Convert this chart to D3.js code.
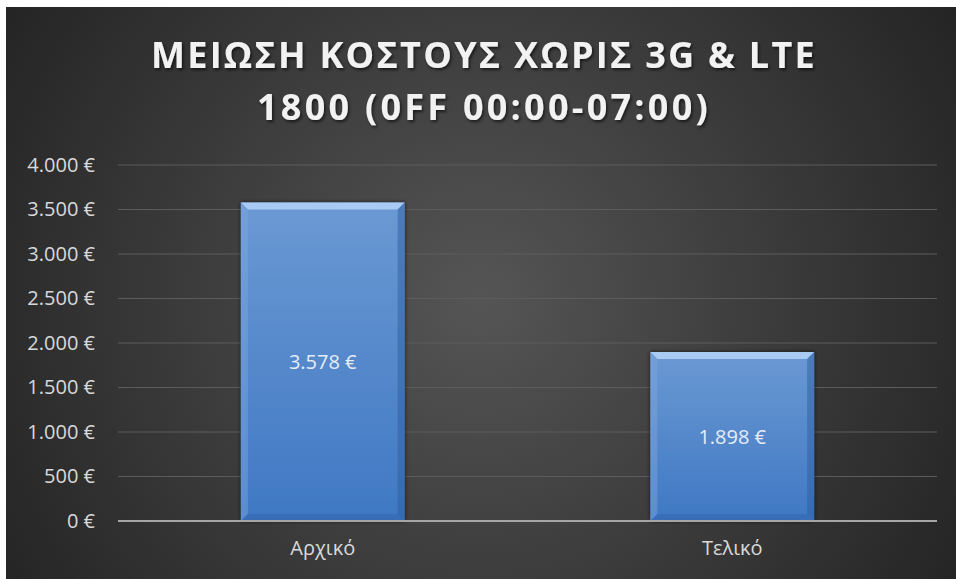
<!DOCTYPE html>
<html><head><meta charset="utf-8">
<script src="https://cdn.jsdelivr.net/npm/d3@7"></script>
<style>html,body{margin:0;padding:0;background:#fff;}svg{display:block;}</style>
</head><body>
<script>
const titleLines = ["ΜΕΙΩΣΗ ΚΟΣΤΟΥΣ ΧΩΡΙΣ 3G & LTE", "1800 (0FF 00:00-07:00)"];
const categories = ["Αρχικό", "Τελικό"];
const values = [3578, 1898];
const yTicks = [0, 500, 1000, 1500, 2000, 2500, 3000, 3500, 4000];

const W = 956, H = 579;
const fmt = v => d3.format(",")(v).replace(/,/g, ".") + " €";

const svg = d3.select("body").append("svg").attr("width", W).attr("height", H);
const defs = svg.append("defs");

const bg = defs.append("radialGradient").attr("id", "bg")
  .attr("gradientUnits", "userSpaceOnUse").attr("cx", 480).attr("cy", 300).attr("r", 560);
bg.append("stop").attr("offset", "0").attr("stop-color", "#555555");
bg.append("stop").attr("offset", "1").attr("stop-color", "#242424");

const bar = defs.append("linearGradient").attr("id", "barg").attr("x1", 0).attr("y1", 0).attr("x2", 0).attr("y2", 1);
bar.append("stop").attr("offset", "0").attr("stop-color", "#6b99d3");
bar.append("stop").attr("offset", "1").attr("stop-color", "#3f78c3");

const sh = defs.append("filter").attr("id", "tsh").attr("x", "-10%").attr("y", "-30%").attr("width", "120%").attr("height", "160%");
sh.append("feDropShadow").attr("dx", 1.5).attr("dy", 2).attr("stdDeviation", 1.5).attr("flood-color", "#000").attr("flood-opacity", 0.6);

const bsh = defs.append("filter").attr("id", "bsh").attr("x", "-10%").attr("y", "-10%").attr("width", "120%").attr("height", "120%");
bsh.append("feDropShadow").attr("dx", 0).attr("dy", 0).attr("stdDeviation", 2).attr("flood-color", "#000").attr("flood-opacity", 0.7);

svg.append("rect").attr("x", 6).attr("y", 7).attr("width", W - 6).attr("height", H - 7).attr("fill", "url(#bg)");

// title
const title = svg.append("g").attr("filter", "url(#tsh)");
const targetW = [666, 454];
titleLines.forEach((t, i) => {
  const tx = title.append("text").attr("x", 484).attr("y", 68 + i * 52)
    .attr("text-anchor", "middle")
    .attr("font-family", "'Open Sans', sans-serif").attr("font-weight", 700)
    .attr("font-size", 36).attr("fill", "#f2f2f2").text(t);
  const w = tx.node().getComputedTextLength();
  const ls = (targetW[i] - w) / (t.length);
  tx.attr("letter-spacing", ls.toFixed(2));
});

const m = {l: 118, r: 937, t: 165, b: 521};
const x = d3.scaleBand().domain(categories).range([m.l, m.r]).paddingInner(0.6).paddingOuter(0.3);
const y = d3.scaleLinear().domain([0, 4000]).range([m.b, m.t]);

// grid
svg.append("g").selectAll("line").data(yTicks.filter(d => d > 0)).join("line")
  .attr("x1", m.l).attr("x2", m.r).attr("y1", d => y(d)).attr("y2", d => y(d))
  .attr("stroke", "#5c5c5c").attr("stroke-width", 1);

// y axis labels
const yAxis = svg.append("g").attr("transform", `translate(${m.l},0)`)
  .call(d3.axisLeft(y).tickValues(yTicks).tickFormat(fmt).tickSize(0).tickPadding(23));
yAxis.select(".domain").remove();
yAxis.selectAll("text").attr("font-family", "'Open Sans', sans-serif").attr("font-size", 20).attr("fill", "#d9d9d9");

// bars
const bv = 7;
const bars = svg.append("g").selectAll("g").data(categories.map((c, i) => ({c, v: values[i]}))).join("g");
bars.each(function(d) {
  const g = d3.select(this);
  const x0 = x(d.c), x1 = x(d.c) + x.bandwidth(), y0 = y(d.v), y1 = y(0);
  g.append("rect").attr("x", x0).attr("y", y0).attr("width", x1 - x0).attr("height", y1 - y0)
    .attr("fill", "url(#barg)").attr("filter", "url(#bsh)");
  const poly = (pts, fill, op) => g.append("polygon").attr("points", pts.map(p => p.join(",")).join(" ")).attr("fill", fill).attr("opacity", op);
  poly([[x0, y0], [x1, y0], [x1 - bv, y0 + bv], [x0 + bv, y0 + bv]], "#a9cbf3", 1);
  poly([[x0, y0], [x0 + bv, y0 + bv], [x0 + bv, y1 - bv], [x0, y1]], "#7fa8de", 0.45);
  poly([[x1, y0], [x1, y1], [x1 - bv, y1 - bv], [x1 - bv, y0 + bv]], "#2d5d9e", 0.5);
  poly([[x0, y1], [x0 + bv, y1 - bv], [x1 - bv, y1 - bv], [x1, y1]], "#2f62a6", 0.45);
  g.append("text").attr("x", (x0 + x1) / 2).attr("y", (y0 + y1) / 2).attr("dy", "0.35em")
    .attr("text-anchor", "middle").attr("font-family", "'Open Sans', sans-serif").attr("font-size", 20)
    .attr("fill", "#e6edf7").text(fmt(d.v));
});

// x axis
svg.append("line").attr("x1", m.l).attr("x2", m.r).attr("y1", y(0)).attr("y2", y(0))
  .attr("stroke", "#a6a6a6").attr("stroke-width", 2);
const xAxis = svg.append("g").attr("transform", `translate(0,${m.b})`)
  .call(d3.axisBottom(x).tickSize(0).tickPadding(20));
xAxis.select(".domain").remove();
xAxis.selectAll("text").attr("font-family", "'Open Sans', sans-serif").attr("font-size", 20).attr("fill", "#d9d9d9");
</script>
</body></html>
